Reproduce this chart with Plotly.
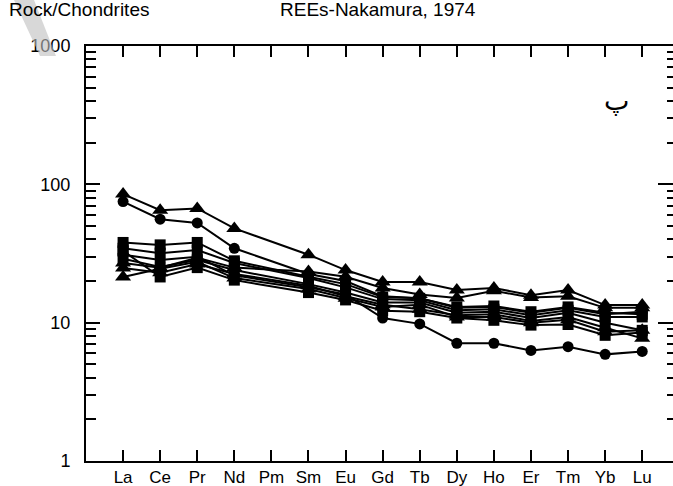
import plotly.graph_objects as go

# REE elements along the x axis (Pm has no analyses)
elements = ["La", "Ce", "Pr", "Nd", "Pm", "Sm", "Eu", "Gd", "Tb", "Dy", "Ho", "Er", "Tm", "Yb", "Lu"]
measured = ["La", "Ce", "Pr", "Nd", "Sm", "Eu", "Gd", "Tb", "Dy", "Ho", "Er", "Tm", "Yb", "Lu"]

# chondrite-normalised concentrations, one list per sample
s_a = [85, 65, 67, 48, 31, 24, 19.7, 19.7, 17.2, 17.8, 15.8, 17.2, 13.4, 13.4]
s_b = [75, 56, 52.6, 34.5, 22.5, 20, 15.5, 15, 12.8, 13, 11.8, 12.8, 11.5, 12]
s_c = [27, 25, 29.5, 25, 23.4, 21.5, 17.8, 16, 15.1, 17, 15.2, 15.5, 12.8, 12.8]
s_d = [38, 36.5, 38, 28, 21.5, 19, 15.3, 15, 13, 13.2, 12, 13, 11.8, 11.5]
s_e = [34.5, 31.8, 33.5, 27, 21, 18, 14.8, 14.5, 12.3, 12.5, 11.3, 12.3, 11, 11]
s_f = [31, 28.4, 30, 22, 18, 16, 10.8, 9.8, 7.1, 7.1, 6.3, 6.7, 5.9, 6.2]
s_g = [29, 25.3, 28.4, 24, 19, 16.5, 14, 14, 11.8, 12, 10.8, 11.8, 10, 8.8]
s_h = [24.8, 23, 26.5, 22.5, 18.5, 15.5, 13.5, 12.5, 11.3, 11.5, 10.3, 11, 9.2, 7.7]
s_i = [21.4, 24.5, 27.5, 21, 17.5, 15, 13, 13.5, 11, 11, 10, 10.5, 8.6, 8.8]
s_j = [33, 21.4, 25, 20.3, 16.5, 14.6, 12.2, 12, 10.8, 10.4, 9.6, 9.7, 8.1, 8.5]

samples = [
    (s_a, "triangle-up"), (s_b, "circle"), (s_c, "triangle-up"),
    (s_d, "square"), (s_e, "square"), (s_f, "circle"), (s_g, "square"),
    (s_h, "triangle-up"), (s_i, "triangle-up"), (s_j, "square"),
]
marker_size = {"triangle-up": 14, "circle": 11, "square": 11}

xpos = {el: i + 1 for i, el in enumerate(elements)}
xs = [xpos[el] for el in measured]

FONT = "Liberation Sans, Arial, sans-serif"
W, H = 673, 486
L, R, T, B = 86, 0, 46, 25

fig = go.Figure()
for vals, sym in samples:
    fig.add_trace(go.Scatter(
        x=xs, y=vals, mode="lines+markers",
        line=dict(color="black", width=2),
        marker=dict(symbol=sym, color="black", size=marker_size[sym]),
        showlegend=False, hoverinfo="skip",
    ))

# invisible trace to carry the right-hand tick axis
fig.add_trace(go.Scatter(x=[1], y=[10], yaxis="y2", mode="markers",
                         marker=dict(opacity=0), showlegend=False, hoverinfo="skip"))

minor_vals = [m * 10 ** e for e in range(3) for m in range(2, 10)]

fig.update_layout(
    template="none",
    width=W, height=H,
    margin=dict(l=L, r=R, t=T, b=B, autoexpand=False),
    paper_bgcolor="white", plot_bgcolor="white",
    font=dict(family=FONT, size=18, color="black"),
    xaxis=dict(
        range=[0, 15.83], tickmode="array",
        tickvals=list(range(1, 16)), ticktext=elements,
        tickfont=dict(size=17),
        ticks="inside", ticklen=11, tickwidth=1.5, tickcolor="black",
        showline=True, linecolor="black", linewidth=2, mirror="ticks",
        showgrid=False, zeroline=False, ticklabelstandoff=0, automargin=False,
    ),
    yaxis=dict(
        type="log", range=[0, 3],
        tickvals=[1, 10, 100, 1000], ticktext=["1", "10", "100", "1000"],
        ticks="inside", ticklen=14, tickwidth=1.5, tickcolor="black",
        minor=dict(tickvals=minor_vals, ticks="inside", ticklen=10,
                   tickwidth=1.5, tickcolor="black", showgrid=False),
        showline=True, linecolor="black", linewidth=2, mirror=False,
        showgrid=False, zeroline=False, ticklabelstandoff=10, automargin=False,
    ),
    yaxis2=dict(
        type="log", range=[0, 3], overlaying="y", side="right",
        tickvals=[1, 10, 100, 1000], showticklabels=False,
        ticks="inside", ticklen=15, tickwidth=1.5, tickcolor="black",
        minor=dict(tickvals=minor_vals, ticks="inside", ticklen=6,
                   tickwidth=1.5, tickcolor="black", showgrid=False),
        showline=False, showgrid=False, zeroline=False, automargin=False,
    ),
)

pw, ph = W - L - R, H - T - B


def px_x(p):
    return (p - L) / pw


def px_y(p):
    return (H - B - p) / ph


fig.add_annotation(text="Rock/Chondrites", x=px_x(7), y=px_y(10), xref="paper", yref="paper",
                   xanchor="left", yanchor="middle", showarrow=False,
                   font=dict(family=FONT, size=19))
fig.add_annotation(text="REEs-Nakamura, 1974", x=px_x(278), y=px_y(10), xref="paper", yref="paper",
                   xanchor="left", yanchor="middle", showarrow=False,
                   font=dict(family=FONT, size=19))
fig.add_annotation(text="پ", x=px_x(616), y=px_y(100), xref="paper", yref="paper",
                   xanchor="center", yanchor="middle", showarrow=False,
                   font=dict(family="DejaVu Sans, Noto Sans", size=27))

# faint diagonal stamp over the top-left corner
fig.add_shape(type="path", xref="paper", yref="paper",
              path=f"M {px_x(14)},{px_y(0)} L {px_x(34)},{px_y(0)} L {px_x(56)},{px_y(56)} L {px_x(40)},{px_y(56)} Z",
              fillcolor="rgba(190,190,190,0.6)", line=dict(width=0), layer="above")

fig.write_html("out.html")
